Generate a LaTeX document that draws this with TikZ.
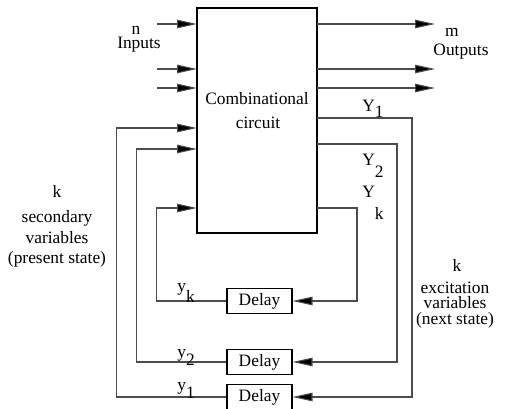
\documentclass[tikz,border=0pt]{standalone}
\usepackage{fontspec}
\setmainfont{Liberation Serif}
\usetikzlibrary{arrows.meta,positioning}
\newcommand{\lowidx}[2]{\raisebox{-#1}{#2}}

\begin{document}
\begin{tikzpicture}[
  x=0.02cm, y=-0.02cm,
  box/.style={draw, line width=0.6pt, inner sep=0pt},
  dbox/.style={draw, line width=0.6pt, minimum width=1.3cm, minimum height=0.5cm, inner sep=0pt},
  lbl/.style={font=\fontsize{9.9}{11.5}\selectfont, inner sep=0pt},
  tight/.style={text height=0.62em, text depth=0.12em},
  wire/.style={draw=black!70, line width=0.6pt},
  arr/.style={wire, -{Triangle[length=4mm, width=1.7mm, fill=black]}}
]
\useasboundingbox (0,0) rectangle (511,409);
% combinational circuit
\node[box, minimum width=2.4cm, minimum height=4.5cm] (cc) at (257,120.5) {};
\node[lbl, anchor=base] (cct1) at (257,104) {Combinational};
\node[lbl, anchor=base] (cct2) at (258,128) {circuit};
% delay elements
\node[dbox, lbl] (dk) at (259.5,301) {Delay};
\node[dbox, lbl] (d2) at (259.5,362) {Delay};
\node[dbox, lbl] (d1) at (259.5,397) {Delay};
% points on the circuit edges
\coordinate (i1) at (197,24);
\coordinate (i2) at (197,69);
\coordinate (i3) at (197,88);
\coordinate (g1) at (197,128);
\coordinate (g2) at (197,149);
\coordinate (gk) at (197,208);
\coordinate (o1) at (317,24);
\coordinate (o2) at (317,69);
\coordinate (o3) at (317,88);
\coordinate (f1) at (317,118);
\coordinate (f2) at (317,144);
\coordinate (fk) at (317,208);
% inputs and outputs
\draw[arr] (i1) ++(-40,0) -- (i1);
\draw[arr] (i2) ++(-40,0) -- (i2);
\draw[arr] (i3) ++(-40,0) -- (i3);
\draw[arr] (o1) -- ++(118,0);
\draw[arr] (o2) -- ++(118,0);
\draw[arr] (o3) -- ++(118,0);
% excitation variables to delays
\draw[arr] (f1) -- ++(95,0) |- (d1.east);
\draw[arr] (f2) -- ++(80,0) |- (d2.east);
\draw[arr] (fk) -- ++(40,0) |- (dk.east);
% secondary variables back to circuit
\draw[arr] (d1.west) -- ++(-110,0) |- (g1);
\draw[arr] (d2.west) -- ++(-90,0) |- (g2);
\draw[arr] (dk.west) -- ++(-70,0) |- (gk);
% labels
\node[lbl, tight, anchor=base] (nin) at (136,34) {n};
\node[lbl, tight, anchor=base] (inp) at (139,49) {Inputs};
\node[lbl, tight, anchor=base] (mout) at (452,36) {m};
\node[lbl, tight, anchor=base] (outp) at (461,55) {Outputs};
\node[lbl, anchor=base west] (Y1) at (362,112) {Y\lowidx{0.34em}{1}};
\node[lbl, anchor=base west] (Y2) at (362,165) {Y\lowidx{0.74em}{2}};
\node[lbl, anchor=base west] (Yk) at (362,197) {Y\lowidx{1.3em}{k}};
\node[lbl, anchor=base west] (yk) at (177,291) {y\lowidx{0.65em}{k}};
\node[lbl, anchor=base west] (y2) at (177,357) {y\lowidx{0.5em}{2}};
\node[lbl, anchor=base west] (y1) at (177,390) {y\lowidx{0.5em}{1}};
\node[lbl, anchor=base] (ks) at (57,197) {k};
\node[lbl, anchor=base] (sec1) at (57,222) {secondary};
\node[lbl, anchor=base] (sec2) at (57,243) {variables};
\node[lbl, anchor=base] (sec3) at (57,263) {(present state)};
\node[lbl, tight, anchor=base] (ke) at (457,271) {k};
\node[lbl, tight, anchor=base] (exc1) at (455,293) {excitation};
\node[lbl, tight, anchor=base] (exc2) at (455,308.5) {variables};
\node[lbl, tight, anchor=base] (exc3) at (455,324) {(next state)};
\end{tikzpicture}
\end{document}
